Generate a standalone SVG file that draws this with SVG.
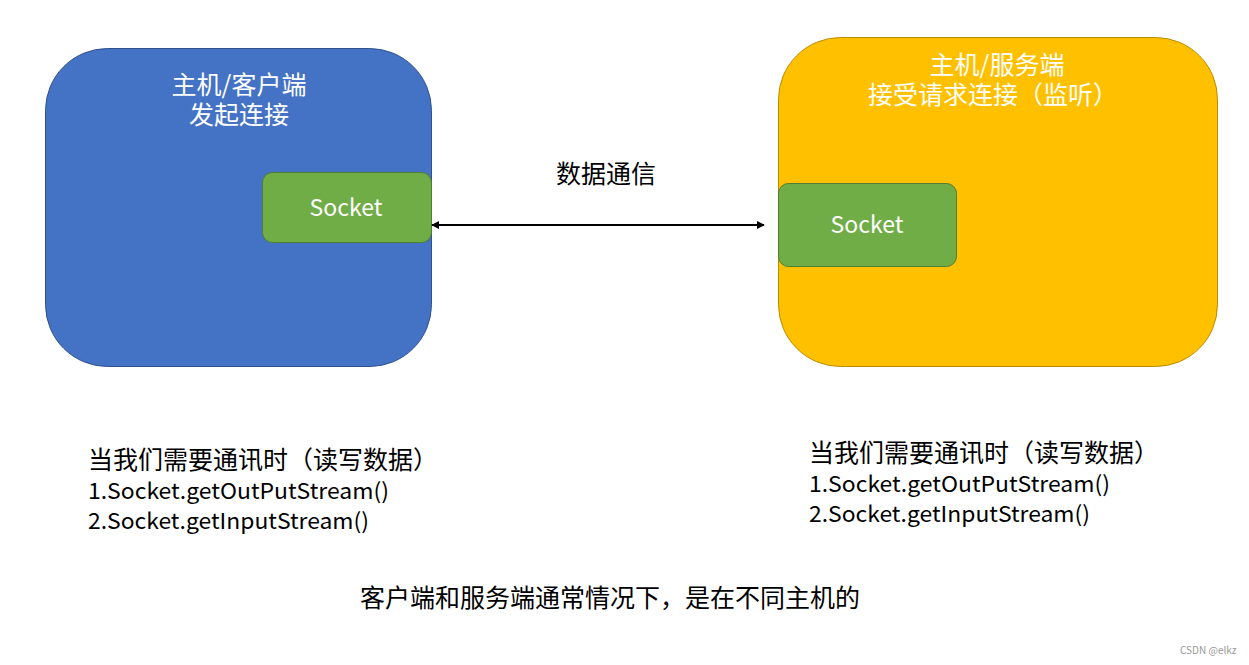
<svg xmlns="http://www.w3.org/2000/svg" width="1249" height="665" viewBox="0 0 1249 665">
<style>
text{font-family:"Noto Sans CJK SC","Liberation Sans",sans-serif;}
.w{fill:#ffffff;font-size:25px;text-anchor:middle;}
.s{fill:#ffffff;font-size:23px;text-anchor:middle;}
.k{fill:#000000;font-size:25px;}
.l{fill:#000000;font-size:22px;}
.sock{fill:#70AD47;stroke:#507E32;stroke-width:1;}
</style>
<defs>
<marker id="ah" viewBox="0 0 10 10" refX="9" refY="5" markerWidth="8" markerHeight="8" markerUnits="userSpaceOnUse" orient="auto-start-reverse">
<path d="M0,0 L10,5 L0,10 z" fill="#000"/>
</marker>
</defs>
<rect width="1249" height="665" fill="#ffffff"/>
<g id="client">
<rect x="45.5" y="48.5" width="386" height="318" rx="62" fill="#4472C4" stroke="#2F528F"/>
<text class="w"><tspan x="239" y="94">主机/客户端</tspan><tspan x="239" y="124">发起连接</tspan></text>
</g>
<g id="client-socket">
<rect class="sock" x="262.5" y="172.5" width="169" height="70" rx="10"/>
<text class="s" x="346" y="216">Socket</text>
</g>
<g id="server">
<rect x="778.5" y="37.5" width="439" height="329" rx="62" fill="#FFC000" stroke="#BC8C00"/>
<text class="w"><tspan x="997" y="74">主机/服务端</tspan><tspan x="993" y="104">接受请求连接（监听）</tspan></text>
</g>
<g id="server-socket">
<rect class="sock" x="778.5" y="183.5" width="178" height="83" rx="10"/>
<text class="s" x="867" y="233">Socket</text>
</g>
<g id="connectors">
<line x1="432" y1="225" x2="764" y2="225" stroke="#000" stroke-width="2" marker-start="url(#ah)" marker-end="url(#ah)"/>
</g>
<g id="labels">
<text class="k" x="606" y="183" text-anchor="middle">数据通信</text>
<text class="k" x="88" y="469">当我们需要通讯时（读写数据）</text>
<text class="l" x="88" y="499" textLength="301" lengthAdjust="spacingAndGlyphs">1.Socket.getOutPutStream()</text>
<text class="l" x="88" y="529" textLength="281" lengthAdjust="spacingAndGlyphs">2.Socket.getInputStream()</text>
<text class="k" x="809" y="462">当我们需要通讯时（读写数据）</text>
<text class="l" x="809" y="492" textLength="301" lengthAdjust="spacingAndGlyphs">1.Socket.getOutPutStream()</text>
<text class="l" x="809" y="522" textLength="281" lengthAdjust="spacingAndGlyphs">2.Socket.getInputStream()</text>
<text class="k" x="610" y="607" text-anchor="middle">客户端和服务端通常情况下，是在不同主机的</text>
<text x="1180" y="654" font-size="10" fill="#999999" font-family="Liberation Sans, sans-serif">CSDN @elkz</text>
</g>
</svg>
